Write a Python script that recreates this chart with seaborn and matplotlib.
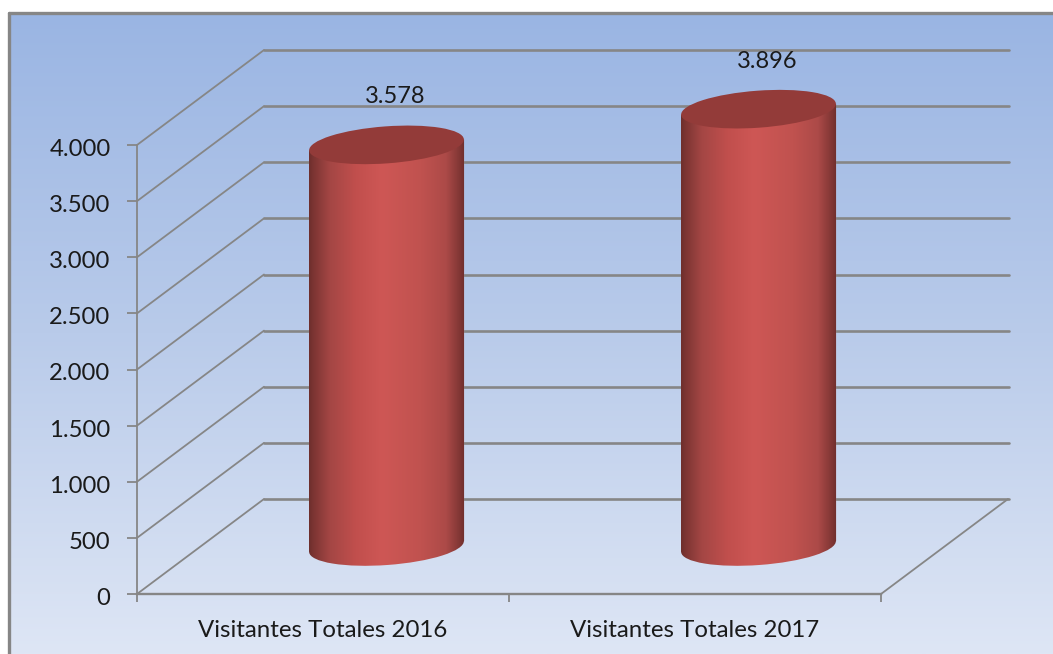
import numpy as np
import pandas as pd
import matplotlib
matplotlib.use('Agg')
import matplotlib.pyplot as plt
import seaborn as sns
from matplotlib.colors import LinearSegmentedColormap
from matplotlib.patches import Ellipse
from matplotlib.path import Path
from matplotlib.transforms import IdentityTransform, ScaledTranslation

# data
categories = ['Visitantes Totales 2016', 'Visitantes Totales 2017']
visitantes = [3578, 3896]
value_labels = ['3.578', '3.896']
y_ticks = [0, 500, 1000, 1500, 2000, 2500, 3000, 3500, 4000]
y_tick_labels = ['0', '500', '1.000', '1.500', '2.000', '2.500', '3.000', '3.500', '4.000']

W, H = 1053, 654
GRID = '#868686'
TEXT = '#1a1a1a'

sns.set_theme(style='white')
plt.rcParams['font.family'] = ['Lato', 'DejaVu Sans']

fig = plt.figure(figsize=(W / 100, H / 100), dpi=100, facecolor='white')


def axes_px(left, top, right, bottom, **kw):
    # axes placed by pixel box of the picture
    return fig.add_axes([left / W, 1 - bottom / H, (right - left) / W, (bottom - top) / H], **kw)


# background, frame and the slanted side lines
bg = axes_px(0, 0, W, H, zorder=0)
bg.set_xlim(0, W)
bg.set_ylim(H, 0)
bg.axis('off')
bg_cmap = LinearSegmentedColormap.from_list('bg', ['#9ab5e3', '#b9cbea', '#dee6f5'])
bg.imshow(np.linspace(0, 1, 256).reshape(-1, 1), cmap=bg_cmap, aspect='auto',
          extent=(9, W, H, 13), zorder=0)
bg.plot([9, 9], [H, 13], color=GRID, lw=2.4, zorder=1)
bg.plot([9, W], [13, 13], color=GRID, lw=2.4, zorder=1)
bg.set_xlim(0, W)
bg.set_ylim(H, 0)

# 3d box: front plane and back wall are the same scale, shifted
FRONT_L, FRONT_R, FRONT_0, FRONT_TOP = 137, 881, 594, 145
DX, DY = 127, 95
px_per_unit = (FRONT_0 - FRONT_TOP) / 4000

for t in y_ticks:
    yy = FRONT_0 - t * px_per_unit
    bg.plot([FRONT_L, FRONT_L + DX], [yy, yy - DY], color=GRID, lw=1.3, zorder=2)
bg.plot([FRONT_R, FRONT_R + DX], [FRONT_0, FRONT_0 - DY], color=GRID, lw=1.3, zorder=2)

ax_back = axes_px(FRONT_L + DX, FRONT_TOP - DY, FRONT_R + DX + 1, FRONT_0 - DY, zorder=1)
ax_back.patch.set_alpha(0)
ax_back.set_ylim(0, 4000)
ax_back.set_yticks(y_ticks)
ax_back.set_xticks([])
ax_back.tick_params(left=False, labelleft=False)
ax_back.grid(axis='y', color=GRID, lw=1.9)
for line in ax_back.get_ygridlines():
    line.set_clip_on(False)
sns.despine(ax=ax_back, left=True, bottom=True)

ax_front = axes_px(FRONT_L, FRONT_TOP, FRONT_R, FRONT_0, zorder=2)
ax_front.patch.set_alpha(0)
ax_front.set_xlim(0, 2)
ax_front.set_ylim(0, 4000)
ax_front.set_yticks(y_ticks)
ax_front.set_yticklabels(y_tick_labels, fontsize=17.2, color=TEXT)
ax_front.set_xticks([0, 1, 2])
ax_front.set_xticklabels([])
ax_front.set_xticks([0.5, 1.5], minor=True)
ax_front.set_xticklabels(categories, minor=True, fontsize=17.3, color=TEXT)
ax_front.tick_params(axis='y', which='major', left=True, length=7, width=1.3, color=GRID, pad=12)
ax_front.tick_params(axis='x', which='major', bottom=True, length=6, width=1.3, color=GRID)
ax_front.tick_params(axis='x', which='minor', bottom=False, pad=15)
sns.despine(ax=ax_front)
ax_front.spines['left'].set_color(GRID)
ax_front.spines['left'].set_linewidth(1.3)
ax_front.spines['bottom'].set_color(GRID)
ax_front.spines['bottom'].set_linewidth(1.7)
# labels sit a little under their ticks in the original
label_shift = ScaledTranslation(0, -2.5 / 100, fig.dpi_scale_trans)
for lab in ax_front.get_yticklabels():
    lab.set_transform(lab.get_transform() + label_shift)

# bars stand half way into the box
ax_bar = axes_px(0, 0, W, H, zorder=3)
ax_bar.patch.set_alpha(0)
ax_bar.axis('off')
df = pd.DataFrame({'categoria': categories, 'visitantes': visitantes})
sns.barplot(data=df, x='categoria', y='visitantes', color='#c05250', saturation=1,
            width=0.417, ax=ax_bar)

MID_0 = FRONT_0 - DY / 2
CAT_0, CAT_STEP = (FRONT_L + DX / 2) + (FRONT_R - FRONT_L) / 4, (FRONT_R - FRONT_L) / 2
xlim = (-CAT_0 / CAT_STEP, (W - CAT_0) / CAT_STEP)
ylim = ((MID_0 - H) / px_per_unit, MID_0 / px_per_unit)
ax_bar.set_xlim(xlim)
ax_bar.set_ylim(ylim)

body_cmap = LinearSegmentedColormap.from_list('cyl', [
    (0.0, '#6e2f2d'), (0.03, '#7d3533'), (0.13, '#a34644'), (0.30, '#c14f4d'),
    (0.47, '#ce5755'), (0.72, '#c0524f'), (0.88, '#ac4a48'), (0.97, '#803634'),
    (1.0, '#6e2f2d')])
TILT = 4.2
ELL_H = 37
grad = np.linspace(0, 1, 256).reshape(1, -1)

for bar, value, label in zip(ax_bar.patches, visitantes, value_labels):
    x0, x1 = bar.get_x(), bar.get_x() + bar.get_width()
    xc = (x0 + x1) / 2
    # display coords, y goes up
    (px0, pb), (px1, pt) = ax_bar.transData.transform([(x0, 0), (x1, value)])
    pw = px1 - px0
    pxc = (px0 + px1) / 2
    rise = pw / 2 * np.tan(np.radians(TILT)) * 0.95

    side = Path([(px0, pt - rise), (px1, pt + rise), (px1, pb + rise), (px0, pb - rise), (px0, pt - rise)])
    bar.set_clip_path(side, IdentityTransform())
    body = ax_bar.imshow(grad, cmap=body_cmap, aspect='auto', zorder=3,
                         extent=(x0, x1, ylim[0], value + 300))
    body.set_clip_path(side, IdentityTransform())

    foot = Ellipse((pxc, pb), pw, ELL_H, angle=TILT, transform=IdentityTransform(), fc='none', ec='none')
    foot_im = ax_bar.imshow(grad, cmap=body_cmap, aspect='auto', zorder=3,
                            extent=(x0, x1, ylim[0], value + 300))
    ax_bar.add_patch(foot)
    foot_im.set_clip_path(foot)

    top = Ellipse((pxc, pt), pw, ELL_H, angle=TILT, transform=IdentityTransform(),
                  fc='#933b39', ec='none', zorder=4)
    ax_bar.add_patch(top)

    ax_bar.annotate(label, xy=(xc, value), xytext=(6.5, 34.5), textcoords='offset points',
                    ha='center', va='center', fontsize=17, color=TEXT, zorder=5)

ax_bar.set_xlim(xlim)
ax_bar.set_ylim(ylim)

fig.savefig('out.png', dpi=100, facecolor='white')
